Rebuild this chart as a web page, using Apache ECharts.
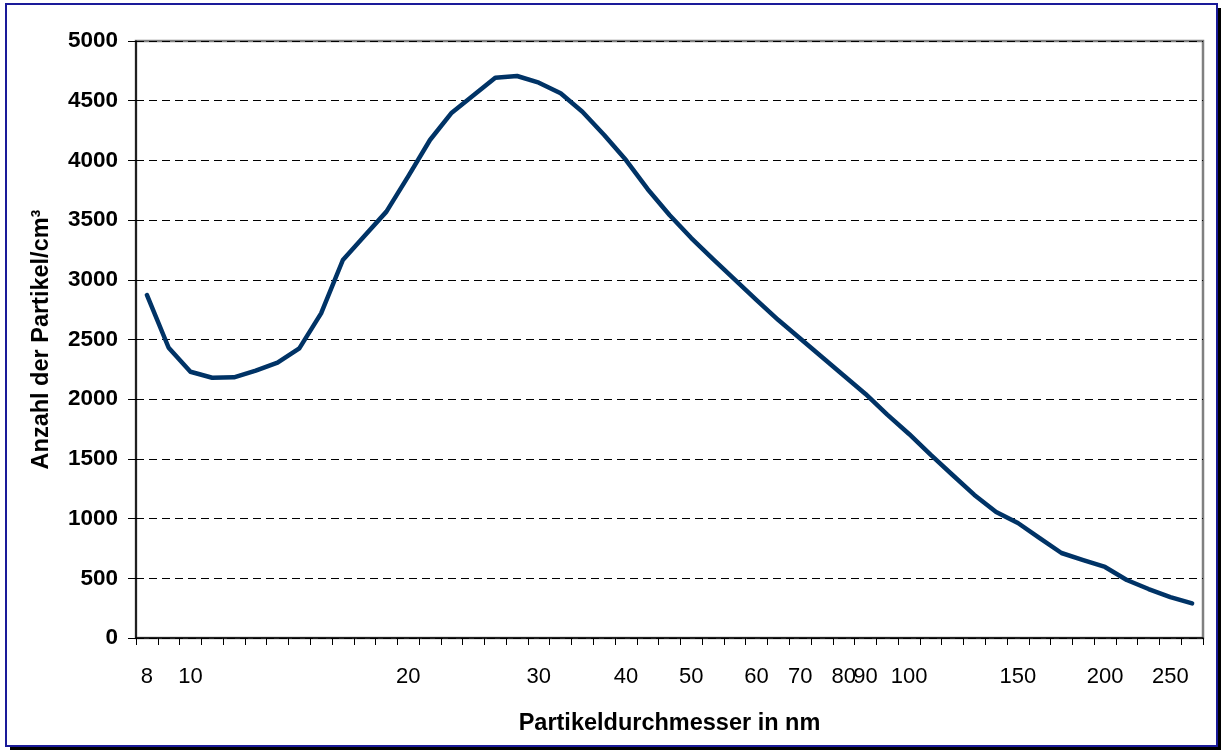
<!DOCTYPE html>
<html>
<head>
<meta charset="utf-8">
<script src="https://cdn.jsdelivr.net/npm/echarts@6/dist/echarts.min.js"></script>
<style>
html,body{margin:0;padding:0;background:#fff;}
#chart{width:1221px;height:753px;}
</style>
</head>
<body>
<div id="chart"></div>
<script>
// x categories (SMPS size channels); only some carry a tick label
const categories = ['8','','10','','','','','','','','','','20','','','','','','30','','','','40','','','50','','','60','','70','','80','90','','100','','','','','150','','','','200','','','250',''];
// particle number concentration per channel
const counts = [2873, 2431, 2230, 2180, 2183, 2239, 2306, 2426, 2719, 3166, 3368, 3571, 3866, 4171, 4400, 4545, 4693, 4707, 4651, 4562, 4408, 4213, 4003, 3759, 3543, 3350, 3174, 3001, 2830, 2663, 2508, 2353, 2198, 2044, 1871, 1709, 1533, 1365, 1198, 1055, 963, 837, 712, 653, 595, 486, 410, 343, 290];
const yTitle = 'Anzahl der Partikel/cm³';
const xTitle = 'Partikeldurchmesser in nm';

const FONT = 'Liberation Sans, Arial, sans-serif';
const chart = echarts.init(document.getElementById('chart'), null, {renderer: 'canvas'});
chart.setOption({
  animation: false,
  backgroundColor: '#ffffff',
  graphic: [
    {type: 'rect', z: -10, shape: {x: 10, y: 8, width: 1211, height: 742}, style: {fill: '#000'}},
    {type: 'rect', z: -9, shape: {x: 6, y: 4, width: 1211, height: 742}, style: {fill: '#fff', stroke: '#1a1a99', lineWidth: 2}}
  ],
  grid: {left: 136, top: 41, right: 18, bottom: 115, show: true, borderColor: '#808080', borderWidth: 2.5, backgroundColor: '#fff'},
  xAxis: {
    type: 'category',
    data: categories,
    boundaryGap: true,
    name: xTitle,
    nameLocation: 'middle',
    nameGap: 74,
    nameTextStyle: {fontFamily: FONT, fontWeight: 'bold', fontSize: 23.5, color: '#000'},
    axisLine: {lineStyle: {color: '#000', width: 1.5}},
    axisTick: {show: true, interval: 0, length: 7, lineStyle: {color: '#000', width: 1}},
    axisLabel: {interval: 0, margin: 28, fontFamily: FONT, fontSize: 22, color: '#000'},
    splitLine: {show: false}
  },
  yAxis: {
    type: 'value',
    min: 0, max: 5000, interval: 500,
    name: yTitle,
    nameLocation: 'middle',
    nameGap: 82,
    nameTextStyle: {fontFamily: FONT, fontWeight: 'bold', fontSize: 23.5, color: '#000'},
    axisLine: {show: true, lineStyle: {color: '#000', width: 1.5}},
    axisTick: {show: true, length: 8, lineStyle: {color: '#000', width: 1}},
    axisLabel: {margin: 18, fontFamily: FONT, fontWeight: 'bold', fontSize: 22.5, color: '#000', formatter: v => String(v)},
    splitLine: {show: true, lineStyle: {color: '#000', width: 1, type: [8, 5]}}
  },
  series: [{
    type: 'line',
    data: counts,
    symbol: 'none',
    smooth: false,
    lineStyle: {color: '#003366', width: 4.5, join: 'round', cap: 'round'}
  }]
});
</script>
</body>
</html>
